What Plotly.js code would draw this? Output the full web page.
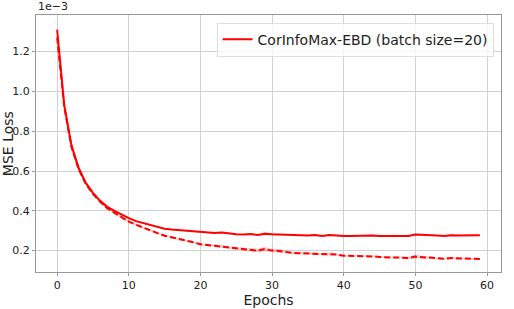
<!DOCTYPE html>
<html><head><meta charset="utf-8">
<script src="https://cdn.plot.ly/plotly-3.0.1.min.js"></script>
<style>body{margin:0;padding:0;background:#fff}#chart{width:514px;height:309px}</style>
</head><body><div id="chart"></div>
<script>
const epochs = Array.from({length: 60}, (_, i) => i);
const solidMean = [1.31,0.93,0.73,0.615,0.54,0.49,0.45,0.42,0.40,0.38,
0.363,0.348,0.338,0.328,0.318,0.310,0.306,0.303,0.300,0.296,
0.292,0.290,0.289,0.291,0.285,0.282,0.281,0.283,0.278,0.285,
0.282,0.281,0.279,0.278,0.276,0.276,0.279,0.273,0.278,0.275,
0.273,0.273,0.275,0.274,0.276,0.274,0.274,0.276,0.275,0.273,
0.281,0.280,0.278,0.276,0.273,0.277,0.276,0.277,0.278,0.277];
const solidStd = [0.015,0.012,0.010,0.008,0.006,0.005,0.005,0.004,0.004,0.004,
0.004,0.004,0.003,0.003,0.003,0.003,0.003,0.003,0.003,0.003,
0.003,0.003,0.003,0.004,0.003,0.003,0.003,0.004,0.004,0.008,
0.005,0.004,0.003,0.003,0.003,0.003,0.004,0.003,0.004,0.003,
0.003,0.003,0.003,0.003,0.004,0.003,0.003,0.004,0.003,0.003,
0.005,0.004,0.004,0.003,0.003,0.004,0.004,0.004,0.005,0.004];
const dashMean = [1.27,0.92,0.72,0.61,0.535,0.485,0.445,0.413,0.39,0.366,
0.346,0.33,0.315,0.300,0.288,0.275,0.267,0.260,0.252,0.242,
0.232,0.228,0.225,0.222,0.215,0.212,0.208,0.205,0.200,0.208,
0.200,0.198,0.193,0.188,0.187,0.186,0.183,0.182,0.184,0.180,
0.174,0.174,0.172,0.171,0.171,0.168,0.165,0.165,0.165,0.163,
0.170,0.167,0.166,0.161,0.159,0.163,0.160,0.160,0.159,0.158];
const dashStd = [0.02,0.015,0.012,0.010,0.008,0.006,0.006,0.006,0.006,0.006,
0.006,0.005,0.005,0.005,0.005,0.005,0.005,0.005,0.005,0.005,
0.005,0.005,0.006,0.007,0.006,0.006,0.007,0.008,0.009,0.012,
0.009,0.010,0.007,0.006,0.006,0.006,0.006,0.007,0.008,0.006,
0.005,0.005,0.005,0.005,0.005,0.005,0.005,0.005,0.005,0.006,
0.010,0.007,0.006,0.005,0.005,0.006,0.005,0.005,0.005,0.005];
const legendLabel = "CorInfoMax-EBD (batch size=20)";
const xTicks = [0,10,20,30,40,50,60];
const yTicks = [0.2,0.4,0.6,0.8,1.0,1.2];

function band(mean, std) {
  const up = mean.map((m, i) => m + std[i]);
  const lo = mean.map((m, i) => m - std[i]);
  return {x: epochs.concat(epochs.slice().reverse()), y: up.concat(lo.slice().reverse())};
}
const b1 = band(solidMean, solidStd), b2 = band(dashMean, dashStd);
const F = "DejaVu Sans, sans-serif";
const data = [
  {x: b1.x, y: b1.y, fill: 'toself', fillcolor: 'rgba(255,0,0,0.2)', line: {width: 0}, mode: 'lines', showlegend: false, hoverinfo: 'skip'},
  {x: b2.x, y: b2.y, fill: 'toself', fillcolor: 'rgba(255,0,0,0.2)', line: {width: 0}, mode: 'lines', showlegend: false, hoverinfo: 'skip'},
  {x: epochs, y: solidMean, mode: 'lines', line: {color: '#ff0000', width: 2}, name: legendLabel},
  {x: epochs, y: dashMean, mode: 'lines', line: {color: '#ff0000', width: 2, dash: '6px,3px'}, showlegend: false}
];
const layout = {
  width: 514, height: 309,
  margin: {l: 36, r: 13, t: 15, b: 37, pad: 0},
  paper_bgcolor: '#fff', plot_bgcolor: '#fff',
  font: {family: F, size: 11, color: '#222'},
  xaxis: {range: [-2.95, 61.95], tickvals: xTicks, ticktext: xTicks.map(String),
    showgrid: true, gridcolor: '#d0d0d0', gridwidth: 1, zeroline: false,
    showline: true, linecolor: '#999', linewidth: 1, mirror: true,
    ticks: 'outside', ticklen: 3, tickcolor: '#999', tickfont: {size: 11, family: F},
    title: {text: 'Epochs', font: {size: 14, family: F}, standoff: 2}},
  yaxis: {range: [0.0925, 1.384], tickvals: yTicks, ticktext: yTicks.map(v => v.toFixed(1)),
    showgrid: true, gridcolor: '#d0d0d0', gridwidth: 1, zeroline: false,
    showline: true, linecolor: '#999', linewidth: 1, mirror: true,
    ticks: 'outside', ticklen: 3, tickcolor: '#999', tickfont: {size: 11, family: F}},
  showlegend: true,
  legend: {x: 0.984, xanchor: 'right', y: 0.97, yanchor: 'top', bgcolor: 'rgba(255,255,255,0.8)',
    bordercolor: '#ddd', borderwidth: 1, font: {size: 14, family: F}, itemwidth: 30},
  annotations: [
    {text: '1e\u22123', xref: 'paper', yref: 'paper', x: 0, y: 1, xanchor: 'left', yanchor: 'bottom',
      showarrow: false, font: {size: 11, family: F}},
    {text: 'MSE Loss', xref: 'paper', yref: 'paper', x: -0.061, y: 0.5, xanchor: 'center', yanchor: 'middle',
      textangle: -90, showarrow: false, font: {size: 14, family: F}}
  ]
};
Plotly.newPlot('chart', data, layout, {displayModeBar: false, staticPlot: true});
</script></body></html>
